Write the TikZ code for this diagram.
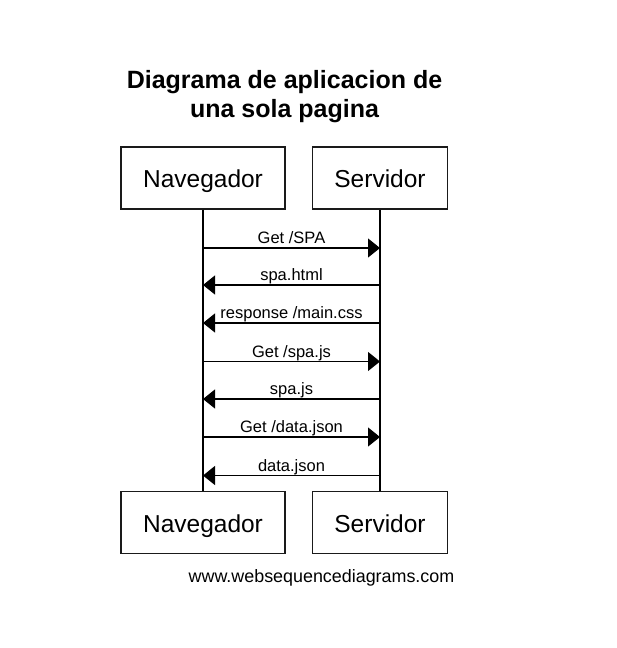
\documentclass[tikz,border=0pt]{standalone}
\usepackage{fontspec}
\setmainfont{Liberation Sans}
\usepackage{xcolor}
\usepackage{tikz}
\usetikzlibrary{arrows.meta,positioning}
\definecolor{bg}{HTML}{FFFFFF}
\definecolor{ink}{HTML}{000000}
\definecolor{edge}{HTML}{1A1A1A}
\tikzset{
  actor/.style={draw=edge, line width=1.1pt, minimum height=62pt, inner sep=0pt, text height=19pt, text depth=0pt, text=ink, font=\fontsize{24.5}{29}\selectfont},
  life/.style={draw=ink, line width=1.1pt},
  msg/.style={draw=ink, line width=1.1pt, -{Triangle[length=12pt,width=19pt]}},
  msglab/.style={text=ink, font=\fontsize{16.5}{20}\selectfont, anchor=base, inner sep=0pt, yshift=4.5pt},
  ttl/.style={text=ink, font=\bfseries\fontsize{25}{29}\selectfont, anchor=base, inner sep=0pt},
  foot/.style={text=ink, font=\fontsize{17.9}{20}\selectfont, anchor=base, inner sep=0pt},
}
\begin{document}
\begin{tikzpicture}[x=1pt, y=-1pt]
\fill[bg] (0,0) rectangle (617,648);
\useasboundingbox (0,0) rectangle (617,648);

\node[ttl] (title) at (284.5,88) {Diagrama de aplicacion de};
\node[ttl] (title2) at (284.5,117) {una sola pagina};

\node[actor, minimum width=164pt] (nav) at (203,178) {Navegador};
\node[actor, minimum width=135pt] (srv) at (380,178) {Servidor};
\node[actor, minimum width=164pt] (navb) at (203,522.5) {Navegador};
\node[actor, minimum width=135pt] (srvb) at (380,522.5) {Servidor};

\draw[life] (nav.south) -- (navb.north);
\draw[life] (srv.south) -- (srvb.north);

\coordinate (n1) at (203,248);   \coordinate (s1) at (380,248);
\coordinate (n2) at (203,285);   \coordinate (s2) at (380,285);
\coordinate (n3) at (203,323);   \coordinate (s3) at (380,323);
\coordinate (n4) at (203,361.5); \coordinate (s4) at (380,361.5);
\coordinate (n5) at (203,399);   \coordinate (s5) at (380,399);
\coordinate (n6) at (203,437);   \coordinate (s6) at (380,437);
\coordinate (n7) at (203,475.5); \coordinate (s7) at (380,475.5);

\draw[msg] (n1) -- (s1) node[msglab, midway] (m1) {Get /SPA};
\draw[msg] (s2) -- (n2) node[msglab, midway] (m2) {spa.html};
\draw[msg] (s3) -- (n3) node[msglab, midway] (m3) {response /main.css};
\draw[msg] (n4) -- (s4) node[msglab, midway] (m4) {Get /spa.js};
\draw[msg] (s5) -- (n5) node[msglab, midway] (m5) {spa.js};
\draw[msg] (n6) -- (s6) node[msglab, midway] (m6) {Get /data.json};
\draw[msg] (s7) -- (n7) node[msglab, midway] (m7) {data.json};

\node[foot] (site) at (321.5,582) {www.websequencediagrams.com};
\end{tikzpicture}
\end{document}
